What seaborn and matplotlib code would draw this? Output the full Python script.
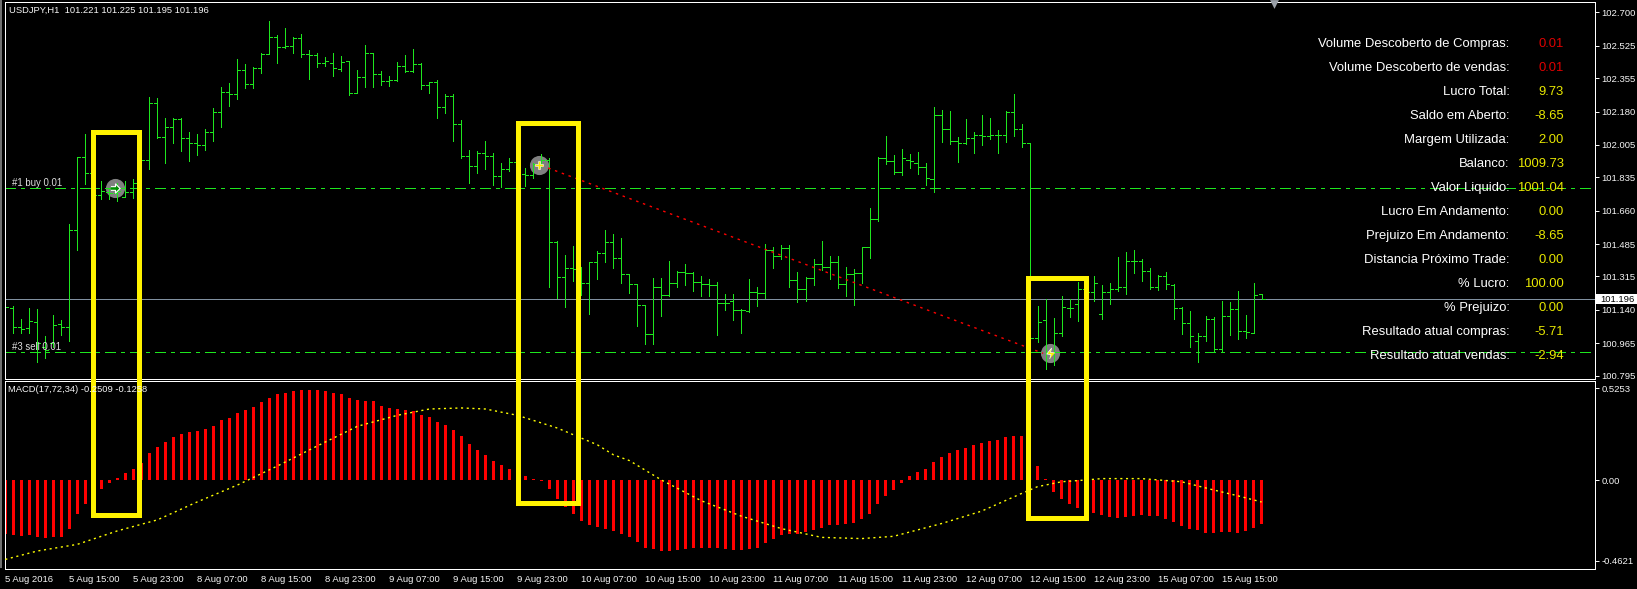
import matplotlib
matplotlib.use('Agg')
import matplotlib.pyplot as plt
from matplotlib.patches import Rectangle
import seaborn as sns

# USDJPY H1 bars
open_px = [
    101.148, 101.148, 101.049, 101.044, 101.078, 100.947, 100.965, 101.066, 101.049, 101.558,
    101.940, 101.860, 101.741, 101.760, 101.755, 101.734, 101.757, 101.804, 101.925, 102.223,
    102.049, 102.097, 102.141, 102.040, 102.014, 102.005, 102.071, 102.180, 102.285, 102.274,
    102.396, 102.324, 102.406, 102.480, 102.569, 102.520, 102.524, 102.564, 102.482, 102.477,
    102.433, 102.433, 102.401, 102.445, 102.279, 102.360, 102.485, 102.375, 102.340, 102.346,
    102.419, 102.394, 102.429, 102.321, 102.333, 102.202, 102.263, 102.113, 101.947, 101.895,
    101.961, 101.947, 101.841, 101.877, 101.914, 101.853, 101.846, 101.905, 101.926, 101.494,
    101.311, 101.358, 101.356, 101.279, 101.390, 101.437, 101.494, 101.412, 101.327, 101.274,
    101.166, 101.012, 101.258, 101.216, 101.279, 101.337, 101.332, 101.285, 101.274, 101.271,
    101.175, 101.187, 101.138, 101.136, 101.236, 101.227, 101.454, 101.423, 101.463, 101.297,
    101.248, 101.307, 101.379, 101.367, 101.393, 101.274, 101.327, 101.332, 101.468, 101.615,
    101.935, 101.919, 101.862, 101.926, 101.909, 101.888, 101.826, 102.160, 102.087, 102.026,
    102.014, 102.040, 102.055, 102.050, 102.055, 102.055, 102.176, 102.087, 102.014, 100.991,
    101.087, 100.915, 101.017, 101.148, 101.169, 101.248, 101.236, 101.117, 101.232, 101.248,
    101.258, 101.395, 101.395, 101.346, 101.262, 101.320, 101.271, 101.148, 101.070, 100.977,
    101.002, 101.092, 100.933, 101.110, 101.143, 101.027, 101.017, 101.221,
]
high_px = [
    101.187, 101.161, 101.091, 101.150, 101.143, 101.003, 101.113, 101.087, 101.591, 101.940,
    102.062, 101.856, 101.816, 101.777, 101.804, 101.816, 101.826, 102.005, 102.255, 102.250,
    102.145, 102.145, 102.145, 102.071, 102.061, 102.087, 102.197, 102.307, 102.328, 102.454,
    102.428, 102.415, 102.485, 102.655, 102.581, 102.616, 102.569, 102.585, 102.503, 102.485,
    102.468, 102.485, 102.471, 102.445, 102.398, 102.527, 102.485, 102.391, 102.368, 102.438,
    102.477, 102.506, 102.433, 102.337, 102.346, 102.270, 102.270, 102.136, 101.978, 101.971,
    102.026, 101.961, 101.909, 101.935, 101.926, 101.882, 101.909, 101.956, 101.935, 101.500,
    101.428, 101.475, 101.367, 101.390, 101.449, 101.559, 101.538, 101.517, 101.327, 101.274,
    101.166, 101.307, 101.307, 101.397, 101.342, 101.379, 101.337, 101.318, 101.300, 101.285,
    101.223, 101.223, 101.143, 101.300, 101.258, 101.486, 101.468, 101.479, 101.479, 101.337,
    101.311, 101.405, 101.502, 101.425, 101.423, 101.363, 101.353, 101.468, 101.672, 101.940,
    102.052, 101.952, 101.984, 101.957, 101.968, 101.910, 102.204, 102.188, 102.183, 102.045,
    102.141, 102.073, 102.162, 102.146, 102.083, 102.183, 102.272, 102.115, 102.014, 101.161,
    101.199, 101.098, 101.213, 101.199, 101.287, 101.314, 101.318, 101.271, 101.279, 101.418,
    101.444, 101.454, 101.405, 101.358, 101.323, 101.337, 101.274, 101.154, 101.134, 101.017,
    101.106, 101.103, 101.187, 101.180, 101.239, 101.113, 101.281, 101.225,
]
low_px = [
    101.105, 101.020, 101.020, 101.020, 100.869, 100.890, 100.947, 101.008, 100.979, 101.454,
    101.800, 101.734, 101.721, 101.721, 101.711, 101.730, 101.725, 101.853, 101.879, 102.043,
    101.909, 102.014, 101.975, 101.921, 101.952, 101.978, 102.028, 102.101, 102.211, 102.246,
    102.303, 102.305, 102.384, 102.480, 102.433, 102.515, 102.489, 102.468, 102.353, 102.415,
    102.421, 102.368, 102.394, 102.267, 102.276, 102.311, 102.311, 102.319, 102.314, 102.340,
    102.389, 102.387, 102.300, 102.279, 102.148, 102.174, 102.028, 101.935, 101.807, 101.860,
    101.879, 101.795, 101.783, 101.870, 101.830, 101.790, 101.834, 101.891, 101.262, 101.201,
    101.157, 101.292, 101.218, 101.119, 101.302, 101.393, 101.360, 101.283, 101.230, 101.055,
    100.961, 100.961, 101.108, 101.215, 101.262, 101.271, 101.239, 101.213, 101.213, 101.008,
    101.140, 101.087, 101.020, 101.131, 101.161, 101.201, 101.360, 101.407, 101.262, 101.183,
    101.189, 101.271, 101.349, 101.300, 101.256, 101.215, 101.166, 101.283, 101.413, 101.608,
    101.905, 101.853, 101.848, 101.884, 101.853, 101.795, 101.760, 102.021, 102.010, 101.917,
    102.010, 101.964, 102.005, 102.036, 101.964, 102.021, 102.052, 101.994, 100.965, 100.973,
    100.832, 100.851, 101.005, 101.101, 101.082, 101.192, 101.189, 101.094, 101.171, 101.241,
    101.223, 101.334, 101.292, 101.250, 101.244, 101.250, 101.094, 101.014, 100.947, 100.869,
    100.977, 100.917, 100.917, 101.010, 100.987, 100.994, 101.017, 101.195,
]
close_px = [
    101.154, 101.052, 101.038, 101.080, 100.968, 100.930, 101.061, 101.049, 101.558, 101.940,
    101.860, 101.741, 101.765, 101.755, 101.765, 101.760, 101.804, 101.925, 102.223, 102.049,
    102.097, 102.141, 102.040, 102.014, 102.005, 102.071, 102.180, 102.285, 102.274, 102.396,
    102.324, 102.406, 102.480, 102.569, 102.520, 102.524, 102.564, 102.482, 102.477, 102.433,
    102.445, 102.406, 102.441, 102.276, 102.360, 102.485, 102.375, 102.340, 102.346, 102.419,
    102.394, 102.429, 102.321, 102.333, 102.202, 102.263, 102.113, 101.947, 101.895, 101.961,
    101.947, 101.841, 101.877, 101.914, 101.853, 101.846, 101.905, 101.926, 101.494, 101.311,
    101.358, 101.356, 101.279, 101.390, 101.437, 101.494, 101.412, 101.327, 101.274, 101.166,
    101.012, 101.258, 101.216, 101.279, 101.337, 101.332, 101.285, 101.274, 101.271, 101.175,
    101.178, 101.138, 101.140, 101.236, 101.230, 101.454, 101.423, 101.463, 101.295, 101.248,
    101.307, 101.379, 101.367, 101.393, 101.274, 101.327, 101.332, 101.468, 101.615, 101.935,
    101.919, 101.862, 101.935, 101.923, 101.888, 101.830, 102.160, 102.087, 102.026, 102.014,
    102.040, 102.055, 102.050, 102.055, 102.055, 102.176, 102.087, 102.014, 100.991, 101.078,
    100.915, 101.017, 101.154, 101.148, 101.248, 101.236, 101.283, 101.236, 101.248, 101.258,
    101.395, 101.395, 101.346, 101.262, 101.320, 101.274, 101.148, 101.070, 101.002, 101.002,
    101.092, 100.933, 101.110, 101.143, 101.027, 101.022, 101.220, 101.196,
]
macd_hist = [
    -0.307, -0.316, -0.322, -0.316, -0.328, -0.333, -0.328, -0.328, -0.278, -0.197,
    -0.138, -0.086, -0.052, -0.015, 0.010, 0.040, 0.063, 0.096, 0.155, 0.186,
    0.218, 0.247, 0.264, 0.276, 0.282, 0.293, 0.308, 0.341, 0.354, 0.385,
    0.402, 0.418, 0.444, 0.471, 0.489, 0.498, 0.511, 0.517, 0.517, 0.517,
    0.508, 0.498, 0.489, 0.471, 0.456, 0.454, 0.454, 0.425, 0.414, 0.408,
    0.402, 0.393, 0.374, 0.362, 0.333, 0.316, 0.287, 0.249, 0.207, 0.172,
    0.144, 0.109, 0.086, 0.063, 0.044, 0.023, 0.006, -0.006, -0.052, -0.109,
    -0.153, -0.195, -0.236, -0.259, -0.270, -0.282, -0.293, -0.310, -0.328, -0.356,
    -0.391, -0.397, -0.408, -0.408, -0.402, -0.395, -0.391, -0.391, -0.391, -0.391,
    -0.397, -0.402, -0.402, -0.397, -0.391, -0.362, -0.339, -0.316, -0.310, -0.310,
    -0.299, -0.287, -0.276, -0.259, -0.259, -0.253, -0.247, -0.224, -0.195, -0.138,
    -0.092, -0.057, -0.017, 0.023, 0.046, 0.063, 0.103, 0.132, 0.155, 0.172,
    0.184, 0.201, 0.213, 0.224, 0.230, 0.247, 0.253, 0.253, 0.155, 0.080,
    0.006, -0.069, -0.109, -0.138, -0.161, -0.178, -0.190, -0.201, -0.213, -0.218,
    -0.213, -0.207, -0.201, -0.207, -0.207, -0.224, -0.241, -0.264, -0.282, -0.287,
    -0.305, -0.305, -0.299, -0.299, -0.305, -0.292, -0.275, -0.251,
]
# signal line, read every few bars
signal_bar = [0, 4, 9, 14, 19, 24, 29, 34, 39, 44, 49, 53, 57, 60, 64, 69, 74, 76, 78, 82,
              87, 92, 97, 102, 107, 111, 117, 122, 127, 129, 132, 135, 137, 142, 147, 151, 154, 157]
signal_val = [-0.454, -0.406, -0.368, -0.291, -0.228, -0.125, -0.029, 0.080, 0.195, 0.307,
              0.370, 0.406, 0.412, 0.406, 0.370, 0.297, 0.201, 0.144, 0.111, 0.0,
              -0.119, -0.207, -0.278, -0.328, -0.335, -0.322, -0.249, -0.178, -0.077, -0.038,
              -0.010, 0.0, 0.008, 0.008, -0.010, -0.057, -0.090, -0.1258]

price_ticks = [102.700, 102.525, 102.355, 102.180, 102.005, 101.835,
               101.660, 101.485, 101.315, 101.140, 100.965, 100.795]
macd_ticks = [0.5253, 0.0, -0.4621]
macd_tick_labels = ['0.5253', '0.00', '-0.4621']
time_labels = ['5 Aug 2016', '5 Aug 15:00', '5 Aug 23:00', '8 Aug 07:00', '8 Aug 15:00',
               '8 Aug 23:00', '9 Aug 07:00', '9 Aug 15:00', '9 Aug 23:00', '10 Aug 07:00',
               '10 Aug 15:00', '10 Aug 23:00', '11 Aug 07:00', '11 Aug 15:00', '11 Aug 23:00',
               '12 Aug 07:00', '12 Aug 15:00', '12 Aug 23:00', '15 Aug 07:00', '15 Aug 15:00']

panel_labels = ['Volume Descoberto de Compras:', 'Volume Descoberto de vendas:', 'Lucro Total:',
                'Saldo em Aberto:', 'Margem Utilizada:', 'Balanco:', 'Valor Liquido:',
                'Lucro Em Andamento:', 'Prejuizo Em Andamento:', 'Distancia Próximo Trade:',
                '% Lucro:', '% Prejuizo:', 'Resultado atual compras:', 'Resultado atual vendas:']
panel_values = ['0.01', '0.01', '9.73', '-8.65', '2.00', '1009.73', '1001.04',
                '0.00', '-8.65', '0.00', '100.00', '0.00', '-5.71', '-2.94']

buy_level = 101.777
sell_level = 100.918
last_price = 101.196
trade_bar = [67, 129.7]
trade_price = [101.897, 100.912]
entry_bar = [13.7, 66.7, 130.5]
entry_price = [101.777, 101.900, 100.915]

GREEN = '#1ee61e'
W, H = 1637, 589
PX = 0.72  # one pixel in points at dpi 100
TEXT = '#f6f6f6'
ARROW = [(-1, -0.4), (0, -0.4), (0, -1), (1, 0), (0, 1), (0, 0.4), (-1, 0.4)]
ARROW_UP_RIGHT = [(-0.15, -1), (0.1, -0.2), (-0.7, -0.1), (0.2, 1), (0.0, 0.2), (0.8, 0.1)]

sns.set_theme(style='dark', rc={'lines.scale_dashes': False, 'axes.facecolor': 'black',
                                'figure.facecolor': 'black', 'font.family': 'Liberation Sans'})
fig = plt.figure(figsize=(W / 100, H / 100), dpi=100)


def pane(left, top, right, bottom):
    return fig.add_axes([left / W, 1 - bottom / H, (right - left) / W, (bottom - top) / H])


bars = list(range(len(close_px)))
x_limits = (-0.1, 198.6)

ax1 = pane(4.5, 1.5, 1594.5, 378.5)
ax2 = pane(4.5, 380.5, 1594.5, 568.5)

# price pane
ax1.scatter(entry_bar, entry_price, s=190, color='#808080', linewidths=0, zorder=1)
ax1.vlines(bars, low_px, high_px, color=GREEN, lw=PX, antialiased=False, zorder=2)
ax1.hlines(open_px, [b - 0.38 for b in bars], bars, color=GREEN, lw=PX, antialiased=False, zorder=2)
ax1.hlines(close_px, bars, [b + 0.38 for b in bars], color=GREEN, lw=PX, antialiased=False, zorder=2)
for level in (buy_level, sell_level):
    ax1.axhline(level, color=GREEN, lw=PX, ls=(0, (7.2, 3.6, 2.2, 3.6)), antialiased=False, zorder=1.5)
ax1.axhline(last_price, color='#8090a0', lw=PX, antialiased=False, zorder=1.5)
sns.lineplot(x=trade_bar, y=trade_price, ax=ax1, color='#ff0000', lw=1.0, ls=(0, (1.8, 3.4)), zorder=3)
ax1.scatter(entry_bar[0], entry_price[0], s=44, marker=ARROW, color='#009000', edgecolors='white',
            linewidths=0.8, zorder=4)
ax1.scatter(entry_bar[1], entry_price[1], s=38, marker='P', color='#ffee00', edgecolors='white',
            linewidths=0.4, zorder=4)
ax1.scatter(entry_bar[2], entry_price[2], s=60, marker=ARROW_UP_RIGHT, color='#ffee00', edgecolors='white',
            linewidths=0.5, zorder=4)
ax1.set_xlim(*x_limits)
ax1.set_ylim(100.780, 102.757)
ax1.set_xticks([])
ax1.yaxis.tick_right()
ax1.set_yticks(price_ticks)
ax1.set_yticklabels([f'{p:.3f}' for p in price_ticks])

# macd pane
sns.barplot(x=bars, y=macd_hist, ax=ax2, native_scale=True, color='#ff0000', saturation=1,
            width=0.4, linewidth=0, zorder=2)
sns.lineplot(x=signal_bar, y=signal_val, ax=ax2, color='#ffff00', lw=1.0, ls=(0, (1.5, 2.6)), zorder=3)
ax2.set_xlim(*x_limits)
ax2.set_ylim(-0.506, 0.569)
ax2.yaxis.tick_right()
ax2.set_yticks(macd_ticks)
ax2.set_yticklabels(macd_tick_labels)
ax2.set_xticks(bars[::8][:len(time_labels)])
ax2.set_xticklabels(time_labels, ha='left')

for ax in (ax1, ax2):
    ax.grid(False)
    ax.set_xlabel('')
    ax.set_ylabel('')
    ax.tick_params(colors=TEXT, labelsize=6.8, length=3, width=PX, pad=2)
    for spine in ax.spines.values():
        spine.set_color('white')
        spine.set_linewidth(PX)
        spine.set_visible(True)

# overlay in screenshot pixels: yellow frames, panel, tags
top = fig.add_axes([0, 0, 1, 1], facecolor='none')
top.set_xlim(0, W)
top.set_ylim(H, 0)
top.axis('off')


def put(x, y, s, **kw):
    top.text(x, y, s, va='center', **kw)


put(9, 10.5, 'USDJPY,H1  101.221 101.225 101.195 101.196', color=TEXT, fontsize=6.75)
put(12, 182.5, '#1 buy 0.01', color='#dddddd', fontsize=6.9)
put(12, 346.5, '#3 sell 0.01', color='#dddddd', fontsize=6.9)
put(8, 390, 'MACD(17,72,34) -0.2509 -0.1258', color=TEXT, fontsize=6.75)
top.add_patch(Rectangle((0, 0), 1.5, 568, color='#707070', lw=0))

for x0, y0, x1, y1 in [(92.5, 131.5, 138.5, 514.7), (517.5, 122.5, 577.5, 503.3), (1027.5, 277.5, 1085.5, 518.3)]:
    top.add_patch(Rectangle((x0, y0), x1 - x0, y1 - y0, fill=False, edgecolor='#fff200',
                            lw=5 * PX, joinstyle='miter'))

for k, (label, value) in enumerate(zip(panel_labels, panel_values)):
    y = 44.3 + 24 * k
    put(1509.5, y, label, color='white', fontsize=9.4, ha='right')
    put(1564, y, value, color='#e00000' if k < 2 else '#e8e800', fontsize=9.4, ha='right')

top.add_patch(Rectangle((1596, 294), 41, 10, color='white', lw=0))
put(1600, 299, f'{last_price:.3f}', color='black', fontsize=6.8)
top.scatter([1274], [3.5], s=40, marker='v', color='#9aa0a8', linewidths=0)

fig.savefig('out.png', dpi=100, facecolor='black')
